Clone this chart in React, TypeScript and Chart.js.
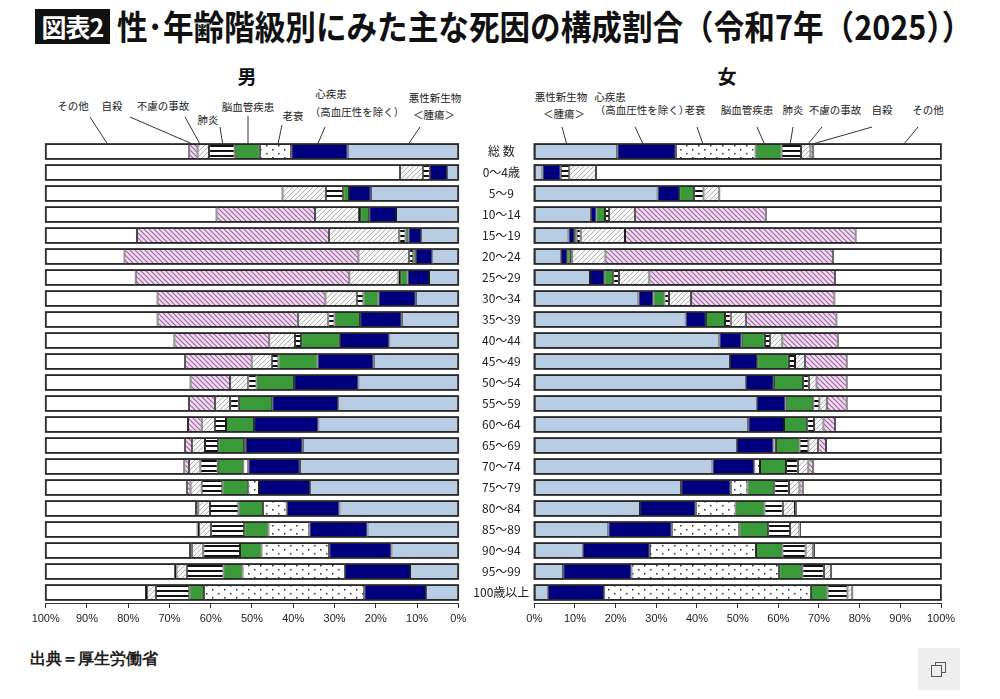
import { useEffect, useRef } from 'react';
import { Chart, registerables } from 'chart.js';

Chart.register(...registerables);

const CJK = '"Noto Sans CJK JP", "Noto Sans", sans-serif';

const ageGroups = [
  '総 数', '0～4歳', '5～9', '10～14', '15～19', '20～24', '25～29', '30～34', '35～39', '40～44', '45～49',
  '50～54', '55～59', '60～64', '65～69', '70～74', '75～79', '80～84', '85～89', '90～94', '95～99', '100歳以上',
];

const causeNames = ['悪性新生物', '心疾患', '老衰', '脳血管疾患', '肺炎', '不慮の事故', '自殺', 'その他'];

const tickValues = [0, 10, 20, 30, 40, 50, 60, 70, 80, 90, 100];

// 男 (%)
const maleCancer = [26.8, 2.7, 21.2, 15.1, 9.0, 6.3, 7.1, 10.3, 13.7, 16.7, 20.5, 24.2, 29.1, 33.9, 37.7, 38.4, 35.9, 28.8, 22.0, 16.2, 11.7, 7.8];
const maleHeart = [13.7, 4.2, 5.3, 6.5, 3.1, 4.0, 5.2, 9.0, 10.1, 12.0, 13.6, 15.6, 16.0, 15.6, 13.8, 12.5, 12.4, 12.8, 14.1, 15.1, 15.8, 15.0];
const maleSenility = [7.6, 0, 0, 0, 0, 0, 0, 0, 0, 0, 0, 0, 0, 0, 0.4, 1.2, 2.6, 5.7, 9.9, 16.4, 24.8, 38.8];
const maleStroke = [6.1, 0, 1.4, 2.2, 0.7, 0.6, 1.8, 3.7, 6.2, 9.4, 9.5, 9.1, 8.1, 6.8, 6.3, 6.2, 6.3, 6.0, 5.9, 5.2, 4.6, 3.6];
const malePneumonia = [6.2, 1.7, 4.2, 0.3, 1.5, 1.0, 0.4, 1.6, 1.5, 1.5, 1.6, 2.0, 2.1, 2.7, 3.2, 4.2, 5.0, 6.9, 8.0, 8.9, 8.9, 8.1];
const maleAccident = [2.8, 5.5, 10.5, 10.6, 17.0, 12.3, 11.9, 7.6, 7.4, 6.2, 4.9, 4.4, 3.7, 3.2, 3.1, 2.8, 2.7, 2.8, 2.9, 2.8, 2.5, 2.1];
const maleSuicide = [2.0, 0, 0, 23.9, 46.6, 56.7, 51.8, 40.7, 34.0, 23.0, 16.1, 9.6, 6.3, 3.3, 1.7, 1.1, 0.9, 0.6, 0.4, 0.4, 0.4, 0.3];
const maleOther = [34.8, 85.9, 57.4, 41.4, 22.1, 19.1, 21.8, 27.1, 27.1, 31.2, 33.8, 35.1, 34.7, 34.5, 33.8, 33.6, 34.2, 36.4, 36.8, 35.0, 31.3, 24.3];

// 女 (%)
const femaleCancer = [20.4, 2.0, 30.3, 13.9, 8.4, 6.5, 13.7, 25.6, 37.2, 45.5, 48.1, 52.0, 54.7, 52.6, 49.8, 43.8, 36.1, 26.0, 18.2, 11.9, 7.1, 3.3];
const femaleHeart = [14.4, 4.5, 5.3, 1.4, 1.4, 1.6, 3.5, 3.7, 5.0, 5.5, 6.7, 6.9, 7.1, 8.8, 9.0, 10.3, 12.2, 13.7, 15.6, 16.5, 16.8, 13.9];
const femaleSenility = [19.6, 0, 0, 0, 0, 0, 0, 0, 0, 0, 0, 0, 0, 0, 0.6, 1.4, 4.1, 9.8, 16.6, 26.1, 36.3, 50.8];
const femaleStroke = [6.4, 0, 3.7, 2.1, 0.6, 0.9, 2.2, 2.7, 4.7, 5.7, 7.8, 7.2, 6.8, 5.7, 5.8, 6.4, 6.6, 7.1, 7.1, 6.5, 5.7, 4.1];
const femalePneumonia = [4.8, 2.1, 2.3, 1.0, 1.0, 0.2, 1.4, 1.1, 1.4, 1.3, 1.5, 1.4, 1.5, 1.7, 2.2, 2.9, 3.6, 4.5, 5.4, 5.7, 5.3, 4.9];
const femaleAccident = [2.3, 6.6, 3.9, 6.4, 10.9, 8.3, 7.5, 5.4, 3.7, 3.0, 2.5, 1.9, 1.8, 2.3, 2.4, 2.6, 2.6, 3.0, 2.3, 1.9, 1.8, 1.2];
const femaleSuicide = [0.7, 0, 0, 32.1, 56.7, 56.0, 45.6, 35.3, 22.3, 13.6, 10.2, 7.4, 4.9, 2.8, 1.9, 1.2, 0.8, 0.2, 0.1, 0.2, 0, 0];
const femaleOther = [31.4, 84.8, 54.5, 43.1, 21.0, 26.5, 26.1, 26.2, 25.7, 25.4, 23.2, 23.2, 23.2, 26.1, 28.3, 31.4, 34.0, 35.7, 34.7, 31.2, 27.0, 21.8];

const maleSeries = [maleCancer, maleHeart, maleSenility, maleStroke, malePneumonia, maleAccident, maleSuicide, maleOther];
const femaleSeries = [femaleCancer, femaleHeart, femaleSenility, femaleStroke, femalePneumonia, femaleAccident, femaleSuicide, femaleOther];

// Callout labels above the 総数 bar: text lines, leader start point and where along the segment the leader lands
type Callout = { cause: number; lines: [string, number, number][]; from: [number, number]; at: number };

const maleCallouts: Callout[] = [
  { cause: 7, lines: [['その他', 73, 106]], from: [90, 117], at: 0.57 },
  { cause: 6, lines: [['自殺', 112, 106]], from: [130, 117], at: 0.65 },
  { cause: 5, lines: [['不慮の事故', 163, 106]], from: [185, 117], at: 0.79 },
  { cause: 4, lines: [['肺炎', 208, 120]], from: [220, 127], at: 0.47 },
  { cause: 3, lines: [['脳血管疾患', 248, 107]], from: [248, 116], at: 0.47 },
  { cause: 2, lines: [['老衰', 293, 116]], from: [282, 125], at: 0.42 },
  { cause: 1, lines: [['心疾患', 331, 94], ['（高血圧性を除く）', 357, 112]], from: [325, 127], at: 0.53 },
  { cause: 0, lines: [['悪性新生物', 435, 98], ['＜腫瘍＞', 434, 115]], from: [420, 127], at: 0.45 },
];

const femaleCallouts: Callout[] = [
  { cause: 0, lines: [['悪性新生物', 561, 97], ['＜腫瘍＞', 564, 114]], from: [562, 127], at: 0.39 },
  { cause: 1, lines: [['心疾患', 610, 97], ['（高血圧性を除く）', 642, 110]], from: [635, 127], at: 0.44 },
  { cause: 2, lines: [['老衰', 695, 110]], from: [697, 127], at: 0.34 },
  { cause: 3, lines: [['脳血管疾患', 747, 110]], from: [757, 127], at: 0.34 },
  { cause: 4, lines: [['肺炎', 793, 110]], from: [793, 127], at: 0.44 },
  { cause: 5, lines: [['不慮の事故', 835, 110]], from: [822, 127], at: 0.74 },
  { cause: 6, lines: [['自殺', 882, 110]], from: [872, 127], at: 0.86 },
  { cause: 7, lines: [['その他', 928, 110]], from: [918, 127], at: 0.71 },
];

function tile(w: number, h: number, paint: (g: CanvasRenderingContext2D) => void) {
  const c = document.createElement('canvas');
  c.width = w;
  c.height = h;
  const g = c.getContext('2d')!;
  paint(g);
  return g.createPattern(c, 'repeat')!;
}

function makeFills(): (string | CanvasPattern)[] {
  const dots = tile(12, 8, (g) => {
    g.fillStyle = '#ffffff';
    g.fillRect(0, 0, 12, 8);
    g.fillStyle = '#333333';
    g.fillRect(2, 1, 1.5, 1.5);
    g.fillRect(8, 5, 1.5, 1.5);
  });
  const stripes = tile(4, 5, (g) => {
    g.fillStyle = '#ffffff';
    g.fillRect(0, 0, 4, 5);
    g.fillStyle = '#111111';
    g.fillRect(0, 0, 4, 2);
  });
  const greyHatch = tile(5, 5, (g) => {
    g.fillStyle = '#f6f6f6';
    g.fillRect(0, 0, 5, 5);
    g.strokeStyle = '#b5b5b5';
    g.lineWidth = 1;
    g.beginPath();
    g.moveTo(0, 5); g.lineTo(5, 0);
    g.moveTo(-1, 1); g.lineTo(1, -1);
    g.moveTo(4, 6); g.lineTo(6, 4);
    g.stroke();
  });
  const pinkHatch = tile(5, 5, (g) => {
    g.fillStyle = '#f3dcf1';
    g.fillRect(0, 0, 5, 5);
    g.strokeStyle = '#9c62a2';
    g.lineWidth = 1.1;
    g.beginPath();
    g.moveTo(0, 0); g.lineTo(5, 5);
    g.moveTo(-1, 4); g.lineTo(1, 6);
    g.moveTo(4, -1); g.lineTo(6, 1);
    g.stroke();
  });
  return ['#b8cce4', '#00007e', dots, '#3a9a3a', stripes, greyHatch, pinkHatch, '#ffffff'];
}

// Draws the outline around each full bar and the leader lines to the 総数 segments
function makeOverlay(series: number[][], callouts: Callout[]) {
  return {
    id: 'barFramesAndLeaders',
    afterDatasetsDraw(chart: any) {
      const { ctx, scales } = chart;
      const xs = scales.x;
      const meta = chart.getDatasetMeta(0);
      const left = Math.min(xs.getPixelForValue(0), xs.getPixelForValue(100));
      const right = Math.max(xs.getPixelForValue(0), xs.getPixelForValue(100));
      ctx.save();
      ctx.strokeStyle = '#2e2e2e';
      ctx.lineWidth = 1.6;
      meta.data.forEach((bar: any) => {
        const { y, height } = bar.getProps(['y', 'height'], true);
        ctx.strokeRect(left, y - height / 2, right - left, height);
      });
      const first = meta.data[0].getProps(['y', 'height'], true);
      const top = first.y - first.height / 2;
      ctx.strokeStyle = '#333333';
      ctx.lineWidth = 1;
      callouts.forEach((c) => {
        let start = 0;
        for (let k = 0; k < c.cause; k++) start += series[k][0];
        const x = xs.getPixelForValue(start + c.at * series[c.cause][0]);
        ctx.beginPath();
        ctx.moveTo(c.from[0], c.from[1]);
        ctx.lineTo(x, top);
        ctx.stroke();
      });
      ctx.restore();
    },
  };
}

function buildConfig(series: number[][], isLeft: boolean, fills: (string | CanvasPattern)[]): any {
  return {
    type: 'bar',
    data: {
      labels: ageGroups,
      datasets: series.map((values, i) => ({
        label: causeNames[i],
        data: values,
        backgroundColor: fills[i],
        borderColor: '#1a1a1a',
        borderWidth: (c: any) => (c.raw > 0 ? 1 : 0),
        borderSkipped: false,
        barPercentage: 0.72,
        categoryPercentage: 1,
      })),
    },
    options: {
      indexAxis: 'y',
      responsive: false,
      animation: false,
      events: [],
      layout: {
        padding: isLeft
          ? { left: 45.7, right: 541.7, top: 141, bottom: 0 }
          : { left: 470.3, right: 59, top: 141, bottom: 0 },
      },
      plugins: { legend: { display: false }, tooltip: { enabled: false } },
      scales: {
        x: {
          stacked: true,
          min: 0,
          max: 100,
          reverse: isLeft,
          afterBuildTicks: (s: any) => {
            s.ticks = tickValues.map((v) => ({ value: v }));
          },
          ticks: {
            callback: (v: any) => `${v}%`,
            font: { family: '"Liberation Sans Narrow", "Liberation Sans", sans-serif', size: 11 },
            color: '#222',
            padding: 4,
            maxRotation: 0,
            autoSkip: false,
          },
          grid: { display: true, drawOnChartArea: false, drawTicks: true, tickLength: 5, color: '#333' },
          border: { display: true, color: '#333', width: 1 },
          afterFit: (s: any) => {
            s.height = 37;
          },
        },
        y: {
          stacked: true,
          display: !isLeft,
          grid: { display: false, drawTicks: false },
          border: { display: false },
          ticks: { font: { family: CJK, size: 12 }, color: '#222', crossAlign: 'center', padding: 5 },
          afterFit: (s: any) => {
            s.width = isLeft ? 0 : 64;
          },
        },
      },
    },
    plugins: [makeOverlay(series, isLeft ? maleCallouts : femaleCallouts)],
  };
}

const abs = (extra: React.CSSProperties): React.CSSProperties => ({ position: 'absolute', ...extra });

export default function App() {
  const leftRef = useRef<HTMLCanvasElement>(null);
  const rightRef = useRef<HTMLCanvasElement>(null);

  useEffect(() => {
    const fills = makeFills();
    const male = new Chart(leftRef.current!, buildConfig(maleSeries, true, fills));
    const female = new Chart(rightRef.current!, buildConfig(femaleSeries, false, fills));
    return () => {
      male.destroy();
      female.destroy();
    };
  }, []);

  const calloutText = [...maleCallouts, ...femaleCallouts].flatMap((c) => c.lines);

  return (
    <div style={abs({ left: 0, top: 0, width: 1000, height: 699, background: '#fff', fontFamily: CJK, color: '#111', overflow: 'hidden' })}>
      <div
        style={abs({
          left: 35, top: 9, width: 75, height: 35, background: '#111', color: '#fff',
          fontWeight: 700, fontSize: 25, lineHeight: '35px', textAlign: 'center', letterSpacing: -1,
        })}
      >
        図表2
      </div>
      <div
        style={abs({
          left: 117, top: 7, fontWeight: 700, fontSize: 34, lineHeight: '38px', whiteSpace: 'nowrap',
          transform: 'scaleX(0.9)', transformOrigin: 'left center',
        })}
      >
        性･年齢階級別にみた主な死因の構成割合（令和7年（2025））
      </div>
      <div style={abs({ left: 247, top: 75, transform: 'translate(-50%,-50%)', fontWeight: 700, fontSize: 19, lineHeight: 1 })}>男</div>
      <div style={abs({ left: 727, top: 75, transform: 'translate(-50%,-50%)', fontWeight: 700, fontSize: 19, lineHeight: 1 })}>女</div>
      {calloutText.map(([t, x, y], i) => (
        <div
          key={i}
          style={abs({ left: x, top: y, transform: 'translate(-50%,-50%)', fontSize: 10.5, lineHeight: 1, whiteSpace: 'nowrap', color: '#222' })}
        >
          {t}
        </div>
      ))}
      <canvas ref={leftRef} width={1000} height={640} style={abs({ left: 0, top: 0 })} />
      <canvas ref={rightRef} width={1000} height={640} style={abs({ left: 0, top: 0 })} />
      <div style={abs({ left: 30, top: 651, fontFamily: 'serif', fontWeight: 700, fontSize: 16, lineHeight: 1, color: '#222' })}>
        出典＝厚生労働省
      </div>
      <div style={abs({ left: 918, top: 648, width: 42, height: 42, background: '#eeeeee' })}>
        <div style={abs({ left: 17, top: 14, width: 9, height: 9, border: '1.5px solid #555' })} />
        <div style={abs({ left: 13, top: 17, width: 9, height: 10, border: '1.5px solid #555', background: '#eeeeee' })} />
      </div>
    </div>
  );
}
